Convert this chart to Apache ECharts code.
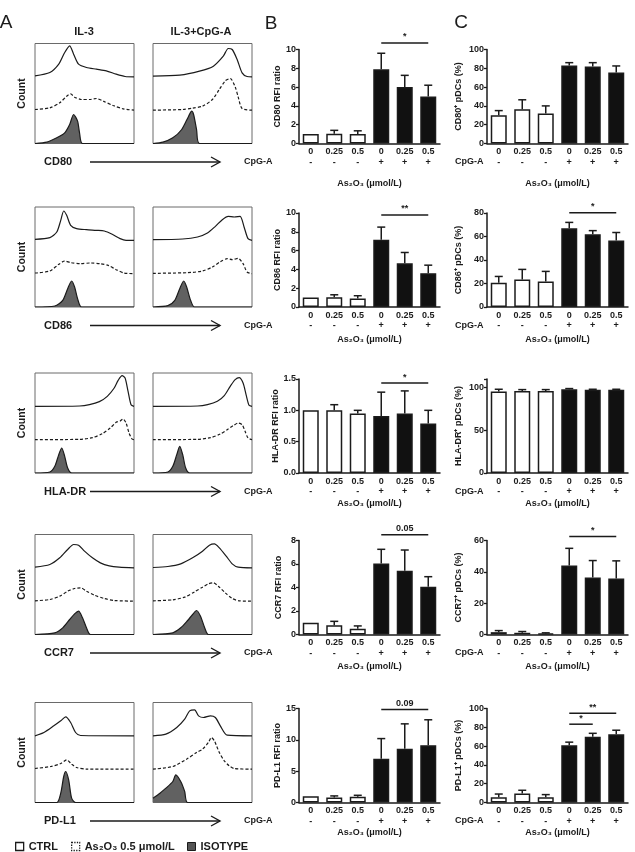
<!DOCTYPE html>
<html><head><meta charset="utf-8">
<script src="https://cdn.jsdelivr.net/npm/echarts@6/dist/echarts.min.js"></script>
<style>html,body{margin:0;padding:0;background:#fff}#c{width:635px;height:852px}</style>
</head><body><div id="c"></div>
<script>
// ---------- category / tick data ----------
const doses = ['0', '0.25', '0.5', '0', '0.25', '0.5'];
const cpgSigns = ['-', '-', '-', '+', '+', '+'];
const markers = ['CD80', 'CD86', 'HLA-DR', 'CCR7', 'PD-L1'];
const rfiNames = ['CD80 RFI ratio', 'CD86 RFI ratio', 'HLA-DR RFI ratio', 'CCR7 RFI ratio', 'PD-L1 RFI ratio'];
const pctNames = ['CD80\u207A pDCs (%)', 'CD86\u207A pDCs (%)', 'HLA-DR\u207A pDCs (%)', 'CCR7\u207A pDCs (%)', 'PD-L1\u207A pDCs (%)'];
const rfiMax = [10, 10, 1.5, 8, 15];
const rfiStep = [2, 2, 0.5, 2, 5];
const pctMax = [100, 80, 110, 60, 100];
const pctStep = [20, 20, 50, 20, 20];

// ---------- panel B: RFI ratio (mean, top of error bar) ----------
const cd80Rfi = [1.0, 1.05, 1.0, 7.9, 6.0, 5.0];
const cd80RfiTop = [1.0, 1.4, 1.35, 9.6, 7.25, 6.2];
const cd86Rfi = [1.0, 1.05, 0.9, 7.15, 4.65, 3.6];
const cd86RfiTop = [1.0, 1.3, 1.2, 8.5, 5.8, 4.45];
const hladrRfi = [1.0, 1.0, 0.95, 0.91, 0.95, 0.79];
const hladrRfiTop = [1.0, 1.09, 1.0, 1.29, 1.31, 1.0];
const ccr7Rfi = [1.0, 0.79, 0.5, 6.04, 5.42, 4.07];
const ccr7RfiTop = [1.0, 1.12, 0.73, 7.25, 7.19, 4.92];
const pdl1Rfi = [1.0, 0.78, 0.9, 7.0, 8.57, 9.15];
const pdl1RfiTop = [1.0, 1.05, 1.15, 10.2, 12.55, 13.2];

// ---------- panel C: % positive pDCs (mean, top of error bar) ----------
const cd80Pct = [30, 36.5, 32, 83, 82, 75.5];
const cd80PctTop = [35, 46.5, 40, 86, 86, 82.5];
const cd86Pct = [20.6, 23.4, 21.7, 67, 62, 56.6];
const cd86PctTop = [26, 32, 30.3, 72, 65, 63.4];
const hladrPct = [95.3, 96, 96, 98, 97.3, 97.3];
const hladrPctTop = [98, 97.6, 97.6, 98.8, 98, 98];
const ccr7Pct = [1.5, 1.1, 0.6, 44, 36.4, 35.8];
const ccr7PctTop = [2.5, 1.9, 1.06, 55, 47.2, 47];
const pdl1Pct = [5.7, 9.7, 5.7, 60.9, 69.9, 72.6];
const pdl1PctTop = [9, 13, 8.4, 64.2, 73.6, 76.9];

// ---------- significance brackets: [fromBar, toBar, level, label] ----------
const cd80RfiSig = [[3, 5, 10.7, '*']];
const cd86RfiSig = [[3, 5, 9.8, '**']];
const hladrRfiSig = [[3, 5, 1.435, '*']];
const ccr7RfiSig = [[3, 5, 8.5, '0.05']];
const pdl1RfiSig = [[3, 5, 14.85, '0.09']];
const cd80PctSig = [];
const cd86PctSig = [[3, 5, 80.3, '*']];
const hladrPctSig = [];
const ccr7PctSig = [[3, 5, 62.5, '*']];
const pdl1PctSig = [[3, 4, 83.3, '*'], [3, 5, 95, '**']];

// ---------- panel A: histogram traces [fluorescence %, relative count] ----------
const cd80Il3Ctrl = [[0,0.03],[15,0.13],[24,0.38],[30,0.73],[35,0.93],[39,0.68],[44,0.38],[52,0.28],[62,0.23],[72,0.18],[82,0.08],[91,0.01],[100,0]];
const cd80Il3As = [[0,0.02],[15,0.07],[25,0.22],[32,0.42],[36,0.49],[40,0.39],[47,0.32],[56,0.32],[62,0.35],[69,0.27],[79,0.14],[89,0.04],[100,0]];
const cd80Il3Iso = [[0,0],[12,0.04],[22,0.17],[30,0.32],[35,0.57],[39,0.87],[43,0.67],[45,0.32],[48,0],[100,0]];
const cd80CpgCtrl = [[0,0.02],[27,0.05],[47,0.17],[61,0.32],[71,0.62],[76,0.85],[80,0.82],[85,0.52],[90,0.12],[95,0.01],[100,0]];
const cd80CpgAs = [[0,0],[30,0.02],[40,0.06],[50,0.12],[60,0.32],[67,0.62],[73,0.88],[78,0.95],[83,0.7],[86,0.4],[90,0.05],[100,0]];
const cd80CpgIso = [[0,0],[10,0.04],[20,0.17],[29,0.42],[36,0.82],[39,0.97],[41,0.87],[44,0.42],[47,0],[100,0]];

const cd86Il3Ctrl = [[0,0.03],[15,0.08],[22,0.25],[26,0.6],[29,0.88],[32,0.75],[36,0.45],[42,0.35],[52,0.32],[62,0.3],[70,0.28],[78,0.18],[86,0.05],[92,0],[100,0]];
const cd86Il3As = [[0,0.02],[15,0.08],[24,0.28],[30,0.38],[36,0.33],[46,0.3],[56,0.32],[66,0.3],[74,0.25],[82,0.12],[90,0.02],[100,0]];
const cd86Il3Iso = [[0,0],[20,0.03],[28,0.2],[33,0.55],[37,0.78],[40,0.6],[43,0.25],[47,0],[100,0]];
const cd86CpgCtrl = [[0,0.02],[30,0.04],[45,0.1],[55,0.22],[63,0.42],[70,0.62],[76,0.72],[82,0.7],[88,0.72],[92,0.4],[96,0.05],[100,0]];
const cd86CpgAs = [[0,0.01],[35,0.03],[50,0.08],[60,0.2],[68,0.36],[75,0.45],[80,0.42],[86,0.46],[91,0.3],[95,0.05],[100,0]];
const cd86CpgIso = [[0,0],[15,0.04],[22,0.2],[27,0.55],[31,0.78],[34,0.6],[38,0.2],[42,0],[100,0]];

const hladrIl3Ctrl = [[0,0],[45,0.01],[55,0.05],[65,0.14],[73,0.3],[80,0.55],[84,0.78],[88,0.92],[91,0.85],[94,0.45],[97,0.05],[100,0]];
const hladrIl3As = [[0,0],[45,0.01],[58,0.06],[68,0.18],[76,0.35],[82,0.52],[86,0.56],[89,0.62],[92,0.5],[95,0.2],[98,0.02],[100,0]];
const hladrIl3Iso = [[0,0],[15,0.03],[20,0.2],[24,0.55],[27,0.75],[30,0.5],[33,0.15],[37,0],[100,0]];
const hladrCpgCtrl = [[0,0],[45,0.01],[55,0.05],[65,0.15],[72,0.32],[78,0.6],[83,0.8],[87,0.86],[91,0.7],[94,0.35],[97,0.03],[100,0]];
const hladrCpgAs = [[0,0],[45,0.01],[58,0.06],[68,0.17],[75,0.3],[81,0.42],[86,0.5],[90,0.45],[93,0.25],[96,0.05],[100,0]];
const hladrCpgIso = [[0,0],[15,0.03],[20,0.2],[24,0.55],[27,0.8],[30,0.55],[33,0.15],[37,0],[100,0]];

const ccr7Il3Ctrl = [[0,0.02],[15,0.1],[25,0.3],[33,0.55],[39,0.7],[44,0.68],[50,0.5],[58,0.3],[66,0.15],[75,0.06],[85,0.02],[100,0]];
const ccr7Il3As = [[0,0.01],[15,0.05],[25,0.15],[33,0.3],[40,0.38],[46,0.4],[52,0.3],[60,0.18],[70,0.08],[80,0.02],[100,0]];
const ccr7Il3Iso = [[0,0],[20,0.05],[28,0.2],[35,0.45],[40,0.62],[44,0.7],[48,0.5],[52,0.2],[56,0],[100,0]];
const ccr7CpgCtrl = [[0,0.01],[15,0.04],[28,0.12],[40,0.3],[50,0.5],[57,0.68],[62,0.72],[67,0.6],[74,0.35],[80,0.12],[86,0.02],[100,0]];
const ccr7CpgAs = [[0,0.01],[20,0.04],[32,0.12],[42,0.28],[50,0.42],[56,0.52],[61,0.55],[66,0.45],[73,0.25],[80,0.08],[87,0.01],[100,0]];
const ccr7CpgIso = [[0,0],[20,0.05],[28,0.2],[35,0.42],[40,0.6],[44,0.72],[48,0.55],[52,0.22],[56,0],[100,0]];

const pdl1Il3Ctrl = [[0,0],[9,0.1],[19,0.3],[26,0.45],[31,0.57],[36,0.4],[41,0.1],[46,0.01],[100,0]];
const pdl1Il3As = [[0,0.02],[16,0.08],[26,0.17],[32,0.28],[37,0.15],[42,0.05],[52,0],[100,0]];
const pdl1Il3Iso = [[0,0],[22,0],[26,0.28],[29,0.78],[31,0.93],[34,0.68],[37,0.13],[41,0],[100,0]];
const pdl1CpgCtrl = [[0,0],[13,0.05],[24,0.25],[32,0.5],[37,0.75],[42,0.78],[46,0.6],[51,0.55],[58,0.6],[63,0.55],[68,0.3],[75,0.02],[100,0]];
const pdl1CpgAs = [[0,0],[20,0.08],[34,0.3],[44,0.5],[50,0.6],[56,0.8],[59,0.95],[62,0.85],[67,0.5],[72,0.25],[77,0.1],[82,0.02],[100,0]];
const pdl1CpgIso = [[0,0.13],[7,0.28],[13,0.43],[20,0.63],[23,0.83],[28,0.63],[32,0.33],[35,0],[100,0]];

// ---------- assemble ----------
const histRows = [
  [[cd80Il3Ctrl, cd80Il3As, cd80Il3Iso], [cd80CpgCtrl, cd80CpgAs, cd80CpgIso]],
  [[cd86Il3Ctrl, cd86Il3As, cd86Il3Iso], [cd86CpgCtrl, cd86CpgAs, cd86CpgIso]],
  [[hladrIl3Ctrl, hladrIl3As, hladrIl3Iso], [hladrCpgCtrl, hladrCpgAs, hladrCpgIso]],
  [[ccr7Il3Ctrl, ccr7Il3As, ccr7Il3Iso], [ccr7CpgCtrl, ccr7CpgAs, ccr7CpgIso]],
  [[pdl1Il3Ctrl, pdl1Il3As, pdl1Il3Iso], [pdl1CpgCtrl, pdl1CpgAs, pdl1CpgIso]]
];
const rfiRows = [[cd80Rfi, cd80RfiTop, cd80RfiSig], [cd86Rfi, cd86RfiTop, cd86RfiSig], [hladrRfi, hladrRfiTop, hladrRfiSig], [ccr7Rfi, ccr7RfiTop, ccr7RfiSig], [pdl1Rfi, pdl1RfiTop, pdl1RfiSig]];
const pctRows = [[cd80Pct, cd80PctTop, cd80PctSig], [cd86Pct, cd86PctTop, cd86PctSig], [hladrPct, hladrPctTop, hladrPctSig], [ccr7Pct, ccr7PctTop, ccr7PctSig], [pdl1Pct, pdl1PctTop, pdl1PctSig]];

const FONT = '"Liberation Sans", Arial, Helvetica, sans-serif';
const INK = '#1b1b1b';
const rowBottom = [143.5, 307, 473, 634.5, 802.5];
const asY = [184, 340, 504, 667, 833];
const NAME_CTRL = 'CTRL', NAME_AS = 'As\u2082O\u2083 0.5 \u03BCmol/L', NAME_ISO = 'ISOTYPE';

const grids = [], xAxes = [], yAxes = [], series = [], graphics = [];

function txt(x, y, text, size, weight, extra) {
  return Object.assign({type: 'text', x: x, y: y, silent: true,
    style: {text: text, fill: INK, font: (weight || 'bold') + ' ' + size + 'px ' + FONT, align: 'center', verticalAlign: 'middle'}}, extra || {});
}

// Panel A
histRows.forEach((row, r) => {
  row.forEach((set, c) => {
    const gi = grids.length;
    grids.push({left: c ? 153 : 35, top: rowBottom[r] - 100, width: 99, height: 100, show: true,
      borderColor: '#6a6a6a', borderWidth: 1, backgroundColor: 'rgba(0,0,0,0)'});
    xAxes.push({gridIndex: gi, type: 'value', min: 0, max: 100, show: false});
    yAxes.push({gridIndex: gi, type: 'value', min: 0, max: 3, show: false});
    const lanes = [[set[0], 2, NAME_CTRL], [set[1], 1, NAME_AS], [set[2], 0, NAME_ISO]];
    lanes.forEach(([pts, off, name], k) => {
      const s = {type: 'line', name: name, xAxisIndex: gi, yAxisIndex: gi, silent: true,
        data: pts.map(p => [p[0], p[1] + off]), smooth: 0.25, symbol: 'none',
        lineStyle: {color: INK, width: 1.2, type: k === 1 ? [3, 2] : 'solid'}, itemStyle: {color: INK}};
      if (k === 2) s.areaStyle = {color: '#616161', opacity: 1};
      series.push(s);
    });
  });
  const cy = rowBottom[r] - 50;
  graphics.push(txt(22, cy, 'Count', 10.5, 'bold', {rotation: Math.PI / 2}));
  const my = rowBottom[r] + 18.5;
  graphics.push(txt(44, my, markers[r], 11, 'bold', {style: {text: markers[r], fill: INK, font: 'bold 11px ' + FONT, align: 'left', verticalAlign: 'middle'}}));
  graphics.push({type: 'polyline', silent: true, shape: {points: [[90, my], [220, my]]}, style: {stroke: INK, lineWidth: 1.4}});
  graphics.push({type: 'polyline', silent: true, shape: {points: [[211, my - 5], [220, my], [211, my + 5]]}, style: {stroke: INK, lineWidth: 1.4, fill: null}});
});
graphics.push(txt(84, 32, 'IL-3', 11));
graphics.push(txt(201, 32, 'IL-3+CpG-A', 11));
graphics.push(txt(6, 23, 'A', 19, 'normal'));
graphics.push(txt(271, 23.5, 'B', 19, 'normal'));
graphics.push(txt(461, 22.5, 'C', 19, 'normal'));

// Panels B and C
function barBlock(r, left, vals, tops, sigs, maxV, step, yName, nameGap, isHla, cpgLeft) {
  const gi = grids.length;
  const bottom = rowBottom[r];
  grids.push({left: left, top: bottom - 94, width: 141, height: 94});
  xAxes.push({gridIndex: gi, type: 'category', data: doses,
    axisLine: {lineStyle: {color: INK, width: 1.5}}, axisTick: {show: false},
    axisLabel: {interval: 0, margin: 3, color: INK, fontSize: 9, fontWeight: 'bold', fontFamily: FONT, lineHeight: 10.5,
      formatter: (v, i) => v + '\n' + cpgSigns[i]}});
  yAxes.push({gridIndex: gi, type: 'value', min: 0, max: maxV, interval: step,
    name: yName, nameLocation: 'middle', nameGap: nameGap, nameRotate: 90,
    nameTextStyle: {color: INK, fontSize: 9, fontWeight: 'bold', fontFamily: FONT},
    axisLine: {show: true, lineStyle: {color: INK, width: 1.5}},
    axisTick: {show: true, length: 3, lineStyle: {color: INK, width: 1.3}},
    splitLine: {show: false},
    axisLabel: {margin: 3, color: INK, fontSize: 9, fontWeight: 'bold', fontFamily: FONT,
      formatter: v => (Math.abs(v / step - Math.round(v / step)) > 1e-6) ? '' : (isHla ? v.toFixed(1) : String(v))}});
  series.push({type: 'bar', xAxisIndex: gi, yAxisIndex: gi, barWidth: 16, silent: true,
    data: vals.map((v, i) => ({value: v, itemStyle: {color: i < 3 ? '#ffffff' : '#111111'}})),
    itemStyle: {borderColor: INK, borderWidth: 1.5}});
  series.push({type: 'custom', xAxisIndex: gi, yAxisIndex: gi, silent: true, clip: false, z: 4,
    data: vals.map((v, i) => [i, v, tops[i]]),
    renderItem: (params, api) => {
      const a = api.coord([api.value(0), api.value(1)]);
      const b = api.coord([api.value(0), api.value(2)]);
      if (Math.abs(a[1] - b[1]) < 0.5) return null;
      const st = {stroke: INK, lineWidth: 1.5};
      return {type: 'group', children: [
        {type: 'line', shape: {x1: a[0], y1: a[1], x2: b[0], y2: b[1]}, style: st},
        {type: 'line', shape: {x1: b[0] - 4, y1: b[1], x2: b[0] + 4, y2: b[1]}, style: st}]};
    }});
  if (sigs.length) {
    series.push({type: 'custom', xAxisIndex: gi, yAxisIndex: gi, silent: true, clip: false, z: 5,
      data: sigs.map(s => [s[0], s[1], s[2]]),
      renderItem: (params, api) => {
        const lab = sigs[params.dataIndex][3];
        const a = api.coord([api.value(0), api.value(2)]);
        const b = api.coord([api.value(1), api.value(2)]);
        return {type: 'group', children: [
          {type: 'line', shape: {x1: a[0], y1: a[1], x2: b[0], y2: b[1]}, style: {stroke: INK, lineWidth: 1.5}},
          {type: 'text', x: (a[0] + b[0]) / 2, y: a[1] - 1.5,
            style: {text: lab, fill: INK, font: 'bold 9px ' + FONT, align: 'center', verticalAlign: 'bottom'}}]};
      }});
  }
  graphics.push({type: 'text', x: cpgLeft, y: bottom + 18.5, silent: true,
    style: {text: 'CpG-A', fill: INK, font: 'bold 9px ' + FONT, align: 'left', verticalAlign: 'middle'}});
  graphics.push(txt(left + 70.5, asY[r], 'As\u2082O\u2083 (\u03BCmol/L)', 9));
}

for (let r = 0; r < 5; r++) {
  barBlock(r, 299, rfiRows[r][0], rfiRows[r][1], rfiRows[r][2], rfiMax[r], rfiStep[r], rfiNames[r], 16, r === 2, 244);
  barBlock(r, 487, pctRows[r][0], pctRows[r][1], pctRows[r][2], pctMax[r], pctStep[r], pctNames[r], 24, false, 455);
}

const legendText = {fontSize: 11, fontWeight: 'bold', fontFamily: FONT, color: INK};
function legendOne(left, item) {
  return {left: left, top: 841, itemWidth: 8, itemHeight: 8, itemGap: 0, padding: 0, selectedMode: false,
    textStyle: legendText, data: [item]};
}

const option = {
  animation: false,
  backgroundColor: '#ffffff',
  grid: grids, xAxis: xAxes, yAxis: yAxes, series: series,
  legend: [
    legendOne(15, {name: NAME_CTRL, icon: 'rect', itemStyle: {color: '#ffffff', borderColor: INK, borderWidth: 1.3}}),
    legendOne(71, {name: NAME_AS, icon: 'rect', itemStyle: {color: '#ffffff', borderColor: INK, borderWidth: 1.3, borderType: 'dotted'}}),
    legendOne(187, {name: NAME_ISO, icon: 'rect', itemStyle: {color: '#555555', borderColor: INK, borderWidth: 1}})
  ],
  graphic: graphics
};
const chart = echarts.init(document.getElementById('c'), null, {renderer: 'canvas'});
chart.setOption(option);
</script>
</body></html>
